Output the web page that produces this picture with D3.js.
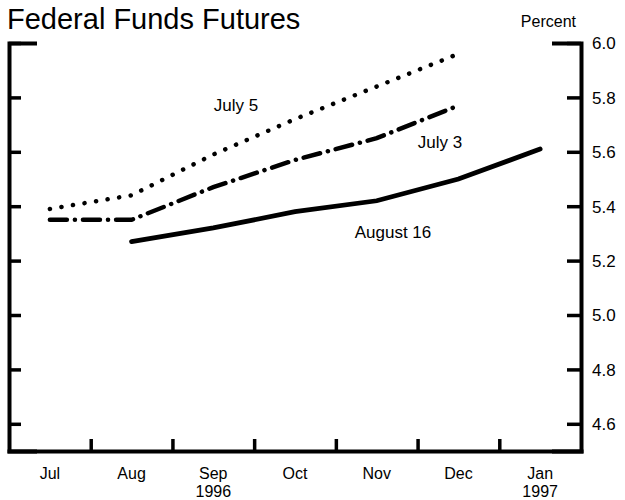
<!DOCTYPE html>
<html>
<head>
<meta charset="utf-8">
<script src="https://cdn.jsdelivr.net/npm/d3@7"></script>
<style>
  body { margin: 0; background: #fff; }
  text { font-family: "Liberation Sans", Arial, Helvetica, sans-serif; fill: #000; }
</style>
</head>
<body>
<div class="chart"></div>
<script>
var months = ['Jul', 'Aug', 'Sep', 'Oct', 'Nov', 'Dec', 'Jan'];
var years = ['', '', '1996', '', '', '', '1997'];
var yTicks = [4.6, 4.8, 5.0, 5.2, 5.4, 5.6, 5.8, 6.0];

// futures curves, one value per month (index into months)
var july5Idx = [0, 1, 2, 3, 4, 5];
var july5 = [5.39, 5.44, 5.59, 5.72, 5.84, 5.96];
var july3Idx = [0, 1, 2, 3, 4, 5];
var july3 = [5.35, 5.35, 5.47, 5.57, 5.65, 5.77];
var aug16Idx = [1, 2, 3, 4, 5, 6];
var aug16 = [5.27, 5.32, 5.38, 5.42, 5.50, 5.61];

var width = 625, height = 500;
var plotLeft = 9, plotRight = 581, plotTop = 43, plotBottom = 451;

var svg = d3.select('.chart').append('svg')
  .attr('width', width)
  .attr('height', height);

var x = d3.scaleLinear().domain([0, months.length]).range([plotLeft, plotRight]);
var y = d3.scaleLinear().domain([4.5, 6.0]).range([plotBottom, plotTop]);

// title and unit
svg.append('text')
  .attr('x', 7).attr('y', 29)
  .style('font-size', '29px')
  .text('Federal Funds Futures');

svg.append('text')
  .attr('x', 576).attr('y', 27)
  .attr('text-anchor', 'end')
  .style('font-size', '16px')
  .text('Percent');

// left axis (no labels)
var leftAxis = svg.append('g')
  .attr('transform', 'translate(' + plotLeft + ',0)')
  .call(d3.axisRight(y).tickValues(yTicks).tickSize(12).tickSizeOuter(26).tickFormat(''));

// right axis with labels
var rightAxis = svg.append('g')
  .attr('transform', 'translate(' + plotRight + ',0)')
  .call(d3.axisRight(y).tickValues(yTicks).tickSize(-14).tickSizeOuter(-27).tickPadding(11)
    .tickFormat(d3.format('.1f')));

// bottom axis, month ticks pointing up
var bottomAxis = svg.append('g')
  .attr('transform', 'translate(0,' + plotBottom + ')')
  .call(d3.axisBottom(x).tickValues([1, 2, 3, 4, 5, 6]).tickSize(-12).tickSizeOuter(0).tickFormat(''));

svg.selectAll('.domain').attr('stroke', '#000').attr('stroke-width', 4).attr('stroke-linecap', 'square');
svg.selectAll('.tick line').attr('stroke', '#000').attr('stroke-width', 3.5);
rightAxis.selectAll('.tick text')
  .attr('fill', '#000')
  .style('font-size', '17px')
  .style('font-family', '"Liberation Sans", Arial, sans-serif')
  .attr('dy', '0.35em');

// month labels
svg.append('g').selectAll('text')
  .data(months)
  .enter().append('text')
  .attr('x', function(d, i){ return x(i + 0.5); })
  .attr('y', 479)
  .attr('text-anchor', 'middle')
  .style('font-size', '16px')
  .text(function(d){ return d; });

svg.append('g').selectAll('text')
  .data(years)
  .enter().append('text')
  .attr('x', function(d, i){ return x(i + 0.5); })
  .attr('y', 497)
  .attr('text-anchor', 'middle')
  .style('font-size', '16px')
  .text(function(d){ return d; });

// lines
var line = d3.line()
  .x(function(d){ return x(d[0] + 0.5); })
  .y(function(d){ return y(d[1]); });

function series(idx, vals) {
  return idx.map(function(m, i){ return [m, vals[i]]; });
}

svg.append('path')
  .datum(series(july5Idx, july5))
  .attr('d', line)
  .attr('fill', 'none')
  .attr('stroke', '#000')
  .attr('stroke-width', 4.5)
  .attr('stroke-linecap', 'round')
  .attr('stroke-dasharray', '0.1,11.6');

svg.append('path')
  .datum(series(july3Idx, july3))
  .attr('d', line)
  .attr('fill', 'none')
  .attr('stroke', '#000')
  .attr('stroke-width', 4.5)
  .attr('stroke-linecap', 'round')
  .attr('stroke-dasharray', '17,8,0.1,8');

svg.append('path')
  .datum(series(aug16Idx, aug16))
  .attr('d', line)
  .attr('fill', 'none')
  .attr('stroke', '#000')
  .attr('stroke-width', 4.8)
  .attr('stroke-linecap', 'round');

// series labels
var labels = [
  { text: 'July 5', x: 236, y: 111 },
  { text: 'July 3', x: 440, y: 148 },
  { text: 'August 16', x: 393, y: 238 }
];
svg.append('g').selectAll('text')
  .data(labels)
  .enter().append('text')
  .attr('x', function(d){ return d.x; })
  .attr('y', function(d){ return d.y; })
  .attr('text-anchor', 'middle')
  .style('font-size', '17px')
  .text(function(d){ return d.text; });
</script>
</body>
</html>
